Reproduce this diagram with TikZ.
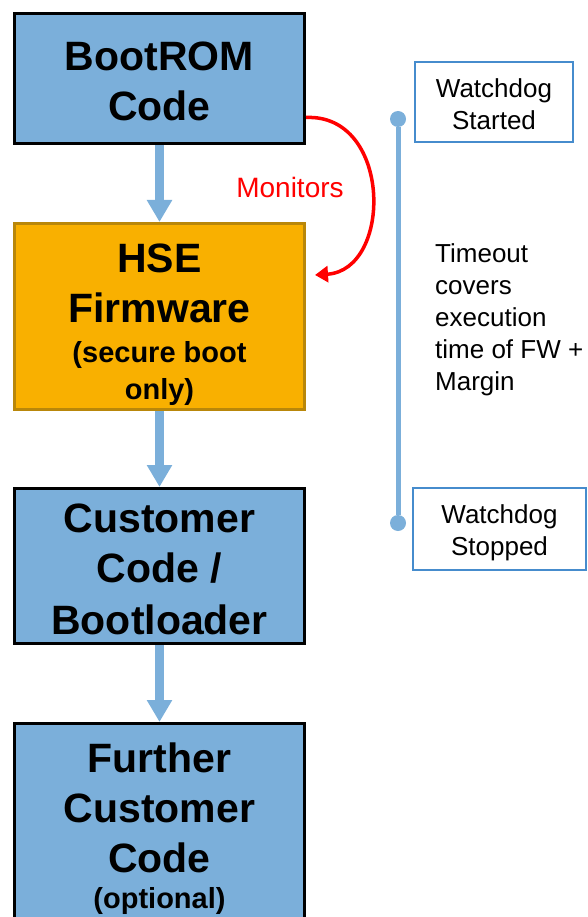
\documentclass[tikz,border=0pt]{standalone}
\usepackage{fontspec}
\setmainfont{Liberation Sans}
\usetikzlibrary{arrows.meta,calc}

\definecolor{stageblue}{RGB}{123,175,218}
\definecolor{hseorange}{RGB}{249,176,0}
\definecolor{hseedge}{RGB}{185,135,10}
\definecolor{wdedge}{RGB}{70,140,205}
\definecolor{monred}{RGB}{255,0,0}

\newcommand\stagefont{\fontsize{41}{50}\selectfont\bfseries}
\newcommand\subfont{\fontsize{29}{34}\selectfont\bfseries}
\newcommand\notefont{\fontsize{26}{32}\selectfont}

\begin{document}
\begin{tikzpicture}[x=1pt,y=-1pt,
  stage/.style={draw=black, line width=3pt, fill=stageblue, minimum width=290pt,
    inner sep=0pt, outer sep=0pt},
  hsestage/.style={stage, draw=hseedge, fill=hseorange},
  stagetext/.style={inner sep=0pt, align=center, font=\stagefont},
  flow/.style={draw=stageblue, line width=9pt, shorten <=1.5pt, shorten >=1.5pt,
    -{Triangle[width=24pt,length=22pt]}},
  monitor/.style={draw=monred, line width=3.5pt, -{Triangle[width=16pt,length=13pt]}},
  wdbox/.style={draw=wdedge, line width=2pt, inner sep=0pt, outer sep=0pt},
  wdtext/.style={inner sep=0pt, align=center, font=\notefont},
  wddot/.style={circle, fill=stageblue, minimum size=16pt, inner sep=0pt},
  wdline/.style={draw=stageblue, line width=5pt},
  note/.style={inner sep=0pt, align=left, font=\notefont}
]
\useasboundingbox (0,0) rectangle (588,917);
\clip (0,0) rectangle (588,917);

% boot stages
\node[stage, minimum height=130pt] (boot) at (159.5,78.5) {};
\node[stagetext] (boottext) at (159.5,81.5) {BootROM\\Code};
\node[hsestage, minimum height=186pt] (hse) at (159.5,316.5) {};
\node[stagetext] (hsetext) at (159.5,324.4)
  {HSE\\Firmware\\[-10pt]{\subfont (secure boot}\\[-13pt]{\subfont only)}};
\node[stage, minimum height=155pt] (cust) at (159.5,566) {};
\node[stagetext] (custtext) at (159.5,569) {Customer\\Code /\\[2pt]Bootloader};
\node[stage, anchor=north, minimum height=240pt] (further) at (159.5,723.5) {};
\node[stagetext] (furthertext) at (159.5,828.5)
  {Further\\Customer\\Code\\[-14pt]{\subfont (optional)}};

% flow between stages
\draw[flow] (boot.south) -- (hse.north);
\draw[flow] (hse.south) -- (cust.north);
\draw[flow] (cust.south) -- (further.north);

% watchdog monitoring arc
\coordinate (monstart) at ($(boot.south east)+(1.5,-26)$);
\coordinate (monend) at ($(hse.north east)+(10.5,51.5)$);
\draw[monitor] (monstart) .. controls ($(monstart)+(86,-4)$) and ($(monend)+(78,-5)$) .. (monend);
\node[inner sep=0pt, text=monred, font=\fontsize{28}{34}\selectfont] (montext) at (290,187) {Monitors};

% watchdog timeline
\node[wddot] (wdon) at (398,119) {};
\node[wddot] (wdoff) at (398,523) {};
\draw[wdline] (wdon) -- (wdoff);
\node[wdbox, minimum width=158pt, minimum height=80pt] (started) at (494,102) {};
\node[wdtext] (startedtext) at (494,104.5) {Watchdog\\Started};
\node[wdbox, minimum width=173pt, minimum height=82pt] (stopped) at (499.5,529) {};
\node[wdtext] (stoppedtext) at (499.5,532.5) {Watchdog\\Stopped};
\node[note, anchor=west] (timeout) at (435,320.2)
  {Timeout\\covers\\execution\\time of FW +\\Margin};
\end{tikzpicture}
\end{document}
